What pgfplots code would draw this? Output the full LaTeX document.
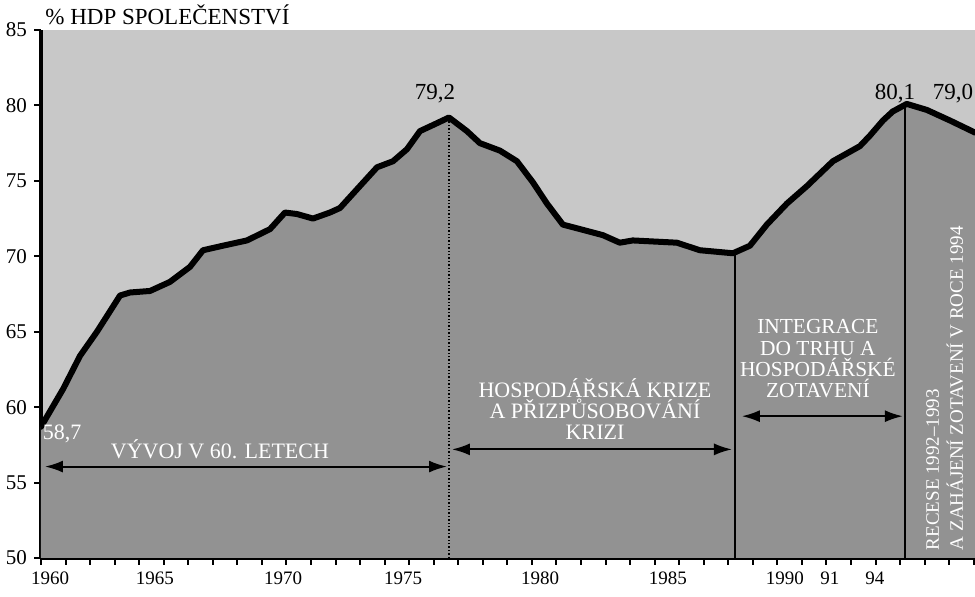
\documentclass[border=0pt]{standalone}
\usepackage{pgfplots}
\pgfplotsset{compat=1.18}
\usepackage{pgfplotstable}
\usepackage{fontspec}
\setmainfont{Liberation Serif}
\usetikzlibrary{arrows.meta}
\definecolor{lightbg}{HTML}{C8C8C8}
\definecolor{darkfill}{HTML}{929292}
\pgfplotstableread{
x y
1960 58.7
1960.90 61.2
1961.59 63.4
1962.28 65.0
1962.81 66.35
1963.22 67.4
1963.63 67.6
1964.44 67.7
1965.25 68.3
1966.07 69.3
1966.60 70.4
1967.41 70.7
1968.39 71.05
1969.33 71.8
1969.94 72.9
1970.43 72.8
1971.08 72.5
1971.77 72.9
1972.18 73.2
1972.99 74.65
1973.69 75.9
1974.34 76.3
1974.91 77.1
1975.44 78.3
1975.97 78.7
1976.62 79.2
1977.35 78.3
1977.88 77.5
1978.70 77.0
1979.39 76.3
1980.04 74.9
1980.61 73.5
1981.26 72.1
1982.08 71.75
1982.89 71.4
1983.58 70.9
1984.11 71.05
1985.91 70.9
1986.84 70.4
1988.19 70.2
1988.88 70.7
1989.57 72.1
1990.39 73.5
1991.20 74.65
1992.26 76.3
1993.36 77.3
1993.77 78.0
1994.30 79.0
1994.70 79.6
1995.27 80.1
1996.09 79.7
1997.03 79.0
1998.05 78.2
}\hdp
\begin{document}
\begin{tikzpicture}
\begin{axis}[
  scale only axis, width=467pt, height=264pt,
  xmin=1960, xmax=1998.05, ymin=50, ymax=85,
  axis x line*=bottom, axis y line*=left,
  axis line style={line width=1.8pt},
  axis background/.style={fill=lightbg},
  clip=true,
  xtick={1960,1961,...,1998}, xticklabels={},
  extra x ticks={1960.37,1964.64,1969.86,1974.75,1980.33,1985.54,1990.3,1992.14,1993.97},
  extra x tick labels={1960,1965,1970,1975,1980,1985,1990,91,94},
  extra x tick style={tick style={draw=none}, xticklabel style={yshift=0pt}},
  ytick={50,55,...,85},
  tick align=outside,
  x tick style={line width=1pt, black},
  y tick style={line width=1pt, black},
  major tick length=3.5pt,
  y tick label style={font=\fontsize{10.5}{12}\selectfont},
  x tick label style={font=\fontsize{9.5}{11}\selectfont},
  /pgf/number format/assume math mode=true,
  /pgf/number format/1000 sep={},
]
\addplot[draw=none, fill=darkfill] table {\hdp} \closedcycle;
\addplot[line width=0.7pt, black, densely dotted] coordinates {(1976.62,50) (1976.62,79.2)};
\addplot[line width=0.7pt, black] coordinates {(1988.27,50) (1988.27,70.2)};
\addplot[line width=0.7pt, black] coordinates {(1995.19,50) (1995.19,80.1)};
\addplot[line width=3pt, black, line join=round, line cap=round] table {\hdp};
\addplot[line width=1pt, black, {Latex[length=9pt,width=6pt]}-{Latex[length=9pt,width=6pt]}] coordinates {(1960.16,56.06) (1976.54,56.06)};
\addplot[line width=1pt, black, {Latex[length=9pt,width=6pt]}-{Latex[length=9pt,width=6pt]}] coordinates {(1976.74,57.2) (1988.15,57.2)};
\addplot[line width=1pt, black, {Latex[length=9pt,width=6pt]}-{Latex[length=9pt,width=6pt]}] coordinates {(1988.55,59.4) (1995.11,59.4)};
\node[white, font=\fontsize{11}{12}\selectfont] at (axis cs:1960.86,58.25) {58,7};
\node[black, font=\fontsize{11.5}{12}\selectfont] at (axis cs:1976.05,80.8) {79,2};
\node[black, font=\fontsize{11.5}{12}\selectfont] at (axis cs:1994.79,80.8) {80,1};
\node[black, font=\fontsize{11.5}{12}\selectfont] at (axis cs:1997.15,80.75) {79,0};
\node[white, font=\fontsize{11}{12}\selectfont] at (axis cs:1967.29,57.2) {VÝVOJ V 60. LETECH};
\node[white, align=center, font=\fontsize{11}{10.5}\selectfont] at (axis cs:1982.57,59.85) {HOSPODÁŘSKÁ KRIZE\\A PŘIZPŮSOBOVÁNÍ\\KRIZI};
\node[white, align=center, font=\fontsize{10.7}{10.6}\selectfont] at (axis cs:1991.65,63.2) {INTEGRACE\\DO TRHU A\\HOSPODÁŘSKÉ\\ZOTAVENÍ};
\node[white, rotate=90, anchor=west, font=\fontsize{9.5}{10}\selectfont, inner sep=0pt] at (axis cs:1996.33,50.5) {RECESE 1992–1993};
\node[white, rotate=90, anchor=west, font=\fontsize{9.5}{10}\selectfont, inner sep=0pt] at (axis cs:1997.23,50.5) {A ZAHÁJENÍ ZOTAVENÍ V ROCE 1994};
\end{axis}
\node[anchor=base west, font=\fontsize{11.5}{12}\selectfont, inner sep=0pt] at ([xshift=2pt,yshift=2.5pt]current axis.north west) {\% HDP SPOLEČENSTVÍ};
\pgfresetboundingbox
\path ([xshift=-20.5pt,yshift=-19.5pt]current axis.south west) rectangle ([yshift=15pt]current axis.north east);
\end{tikzpicture}
\end{document}
